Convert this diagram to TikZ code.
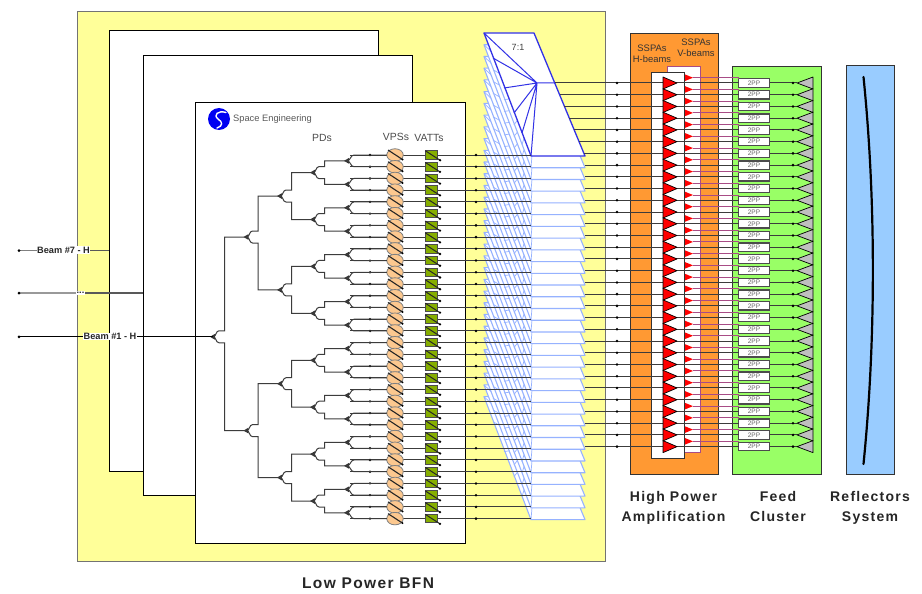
\documentclass[tikz,border=0pt]{standalone}
\usepackage{fontspec}
\setmainfont{Liberation Sans}
\newfontfamily\capfont[LetterSpace=9]{Liberation Sans}
\usetikzlibrary{shapes.geometric,calc}
\definecolor{bfnyellow}{HTML}{FFFF99}
\definecolor{hpaorange}{HTML}{FF9933}
\definecolor{feedgreen}{HTML}{99FF66}
\definecolor{reflblue}{HTML}{99CCFF}
\definecolor{vpsfill}{HTML}{FCC88F}
\definecolor{vattfill}{HTML}{86AE00}
\definecolor{wirecol}{HTML}{3C3C3C}
\definecolor{pinkline}{HTML}{A84C86}
\definecolor{hybback}{HTML}{96B2FF}
\definecolor{hybmain}{HTML}{3232E6}
\tikzset{
  panelbox/.style={rectangle,draw=#1,line width=0.9pt,inner sep=0pt,outer sep=0pt,anchor=north west},
  wire/.style={draw=wirecol,line width=1pt},
  pinkwire/.style={draw=pinkline,line width=1pt},
  smalllabel/.style={text=black!75,inner sep=0pt,font=\fontsize{9.4}{11}\selectfont,align=center},
  midlabel/.style={text=black!70,inner sep=0pt,font=\fontsize{10.4}{12}\selectfont},
  beamlabel/.style={fill=white,text=black!85,inner sep=0.6pt,font=\fontsize{9.2}{11}\selectfont\bfseries},
  caption/.style={text=black!85,inner sep=0pt,align=center,font=\capfont\fontsize{14}{20}\selectfont\bfseries},
  vpsnode/.style={ellipse,draw=black!50,fill=vpsfill,line width=0.8pt,minimum width=16.5pt,minimum height=12.5pt,inner sep=0pt,outer sep=0pt},
  vattnode/.style={rectangle,draw=black!70,fill=vattfill,line width=1pt,minimum width=12.5pt,minimum height=8.6pt,inner sep=0pt,outer sep=0pt},
  ppnode/.style={rectangle,draw=black!70,fill=white,line width=1.2pt,minimum width=31pt,minimum height=8.4pt,inner sep=0pt,outer sep=0pt,text=black!60,font=\fontsize{6.5}{7}\selectfont},
  backhyb/.style={draw=hybback,fill=white,line width=1.1pt,line join=round},
  backfan/.style={draw=hybback,line width=0.7pt},
  mainhyb/.style={draw=hybmain,fill=white,line width=1.3pt,line join=round},
  mainfan/.style={draw=hybmain,line width=1pt},
}
\newcommand{\boxat}[7]{% name, x, y, w, h, fill, border
  \node[panelbox=#7,fill=#6,minimum width=#4pt,minimum height=#5pt] (#1) at (#2,#3) {};}
\newcommand{\pdmark}[3]{% name, x, y
  \coordinate (#1) at (#2,#3);
  \fill[black!80] (#2-3,#3) -- (#2+1.8,#3-2.8) -- (#2+1.8,#3+2.8) -- cycle;}
\newcommand{\pdarm}[3]{% parent, child, sign
  \draw[wire] (#1) to[out=0,in=180] ++(6,{#3*6}) -- ++(5.5,0) |- (#2);}
\newcommand{\pdleaf}[3]{% parent, target, sign
  \draw[wire] (#1) to[out=0,in=180] ++(7,{#3*5.865}) -- (#2);}
\newcommand{\hybrid}[4]{% dy, outline style, fan style, name
  \draw[#2] (484,33+#1) -- (534,33+#1) -- (585,156+#1) -- (531,156+#1) -- cycle;
  \coordinate (#4) at (537,83+#1);
  \draw[#3] (484,33+#1) -- (#4) (493,58+#1) -- (#4) (504,88+#1) -- (#4)
            (514,113+#1) -- (#4) (522,133+#1) -- (#4) (531,156+#1) -- (#4) -- (555,83+#1);}
\begin{document}
\begin{tikzpicture}[x=1pt,y=-1pt]
\useasboundingbox (0,0) rectangle (922,594);
\fill[white] (0,0) rectangle (922,594);
% --- Low power BFN panels
\boxat{bfn}{77}{11}{528}{550}{bfnyellow}{black!55}
\boxat{panA}{109}{30}{269}{441}{white}{black}
\boxat{panB}{143}{55}{269}{440}{white}{black}
\boxat{panC}{195}{102.5}{270}{440.5}{white}{black}
% logo
\fill[blue!95!black] (219,119) circle (11);
\draw[white,line width=1.4pt,line cap=round] (226,112.5) .. controls (218,110) and (213,115) .. (218,119) .. controls (223,122) and (223,126) .. (217,128);
\node[smalllabel,anchor=west,text=black!65,font=\fontsize{9.3}{11}\selectfont] (spaceeng) at (233,119.5) {Space Engineering};
\node[midlabel] (pdslbl) at (322,138) {PDs};
\node[midlabel] (vpslbl) at (396,137) {VPSs};
\node[midlabel] (vattlbl) at (429,138) {VATTs};
% --- 7:1 hybrids, back to front
\foreach \i in {31,30,...,1}{
  \pgfmathsetmacro\dy{11.73*\i}
  \hybrid{\dy}{backhyb}{backfan}{hub\i}
}
\hybrid{0}{mainhyb}{mainfan}{hub0}
\node[smalllabel,font=\fontsize{9}{11}\selectfont] (ratio) at (518,47) {7:1};
% --- VPS / VATT rows
\foreach \i in {0,...,31}{
  \pgfmathsetmacro\ry{155+11.73*\i}
  \coordinate (tin\i) at (531,\ry);
  \node[vattnode] (vatt\i) at (431.5,\ry) {};
  \draw[wire] (vatt\i.east) -- (tin\i);
  \fill[black] (476,\ry) circle (1.4);
  \draw[wire] (395,\ry) -- (vatt\i.west);
  \draw[wire] (350,\ry) -- (388,\ry);
  \fill[black] (370,\ry) circle (1.3);
}
\foreach \i in {0,...,31}{
  \pgfmathsetmacro\ry{155+11.73*\i}
  \node[vpsnode] (vps\i) at (395,\ry) {};
}
\foreach \i in {0,...,31}{
  \pgfmathsetmacro\ry{155+11.73*\i}
  \draw[black!85,line width=1.1pt] (388,\ry-5) -- (402.5,\ry+4.5);
  \fill[black] (402.5,\ry+4.5) circle (1.1);
  \draw[black!85,line width=1pt] (vatt\i.north west) -- (440,\ry+5.2);
  \fill[black] (440,\ry+5.2) circle (1.3);
}
% --- power divider tree
\foreach \k in {0,...,15}{
  \pgfmathsetmacro\yy{155+11.73*(2*\k+0.5)}
  \pdmark{pdE\k}{347}{\yy}
  \pgfmathtruncatemacro\ca{2*\k}
  \pgfmathtruncatemacro\cb{2*\k+1}
  \pdleaf{pdE\k}{vps\ca.west}{-1}
  \pdleaf{pdE\k}{vps\cb.west}{1}
}
\foreach \k in {0,...,7}{
  \pgfmathsetmacro\yy{155+11.73*(4*\k+1.5)}
  \pdmark{pdD\k}{313}{\yy}
  \pgfmathtruncatemacro\ca{2*\k}
  \pgfmathtruncatemacro\cb{2*\k+1}
  \pdarm{pdD\k}{pdE\ca}{-1}
  \pdarm{pdD\k}{pdE\cb}{1}
}
\foreach \k in {0,...,3}{
  \pgfmathsetmacro\yy{155+11.73*(8*\k+3.5)}
  \pdmark{pdC\k}{280}{\yy}
  \pgfmathtruncatemacro\ca{2*\k}
  \pgfmathtruncatemacro\cb{2*\k+1}
  \pdarm{pdC\k}{pdD\ca}{-1}
  \pdarm{pdC\k}{pdD\cb}{1}
}
\pdmark{pdB0}{246.5}{237}
\pdmark{pdB1}{246.5}{430.6}
\pdarm{pdB0}{pdC0}{-1}
\pdarm{pdB0}{pdC1}{1}
\pdarm{pdB1}{pdC2}{-1}
\pdarm{pdB1}{pdC3}{1}
\pdmark{pdA}{213}{336.8}
\pdarm{pdA}{pdB0}{-1}
\pdarm{pdA}{pdB1}{1}
% --- beam inputs
\coordinate (inA) at (19,336.8);
\coordinate (inB) at (19,293);
\coordinate (inBm) at (80,293);
\coordinate (inBe) at (143,293);
\coordinate (inC) at (19,250.5);
\coordinate (inCm) at (64,250.5);
\coordinate (inCe) at (109,250.5);
\draw[draw=black,line width=1pt] (inA) -- (pdA);
\draw[draw=black!40,line width=1.1pt] (inB) -- (inBm);
\draw[draw=black!65,line width=1.3pt] (inBm) -- (inBe);
\draw[draw=black!50,line width=1.1pt] (inC) -- (inCm);
\draw[draw=black!65,line width=1.3pt] (inCm) -- (inCe);
\foreach \c in {inA,inB,inC}{\fill[black] (\c) circle (1.5);}
\node[beamlabel] (beamone) at (110,336.5) {Beam \#1 - H};
\node[beamlabel,inner sep=1pt] (beamdots) at (80.5,293) {...};
\node[beamlabel] (beamseven) at (63.5,250) {Beam \#7 - H};
% --- HPA and feed boxes
\boxat{hpa}{630}{33}{88}{441}{hpaorange}{black!80}
\boxat{feedbox}{732}{66}{89}{408}{feedgreen}{black!80}
\boxat{refl}{846.5}{65.7}{47.5}{408.3}{reflblue}{black!80}
\draw[black,line width=2.2pt,line cap=round] (863.5,77) .. controls (876,200) and (876,340) .. (863.5,464);
\boxat{vbox}{667}{66}{33}{386}{white}{pinkline}
\node[smalllabel,text=black!80] (hlabel) at (652,54) {SSPAs\\[0.4pt]H-beams};
\node[smalllabel,text=black!80] (vlabel) at (696,48) {SSPAs\\[0.4pt]V-beams};
% --- 2PP nodes, V path
\foreach \i in {0,...,31}{
  \pgfmathsetmacro\ry{83+11.73*\i}
  \node[ppnode] (pp\i) at (754,\ry) {2PP};
  \coordinate (vamp\i) at (693,\ry-5.3);
  \fill[red] (684,\ry-9) -- (693,\ry-5.3) -- (684,\ry-1.6) -- cycle;
  \draw[pinkwire] (vamp\i) -| (pp\i.north west);
}
\boxat{hbox}{651}{72}{33}{386}{white}{black!80}
% --- RF paths through the H amplifiers
\foreach \i in {0,...,31}{
  \pgfmathsetmacro\ry{83+11.73*\i}
  \pgfmathsetmacro\xs{min(585,534+(\ry-33)*0.41463)}
  \coordinate (tout\i) at (\xs,\ry);
  \draw[wire] (tout\i) -- (pp\i.west);
  \fill[black] (617,\ry) circle (1.4);
  \coordinate (feed\i) at (797,\ry);
  \draw[wire] (pp\i.east) -- (feed\i);
  \fill[black] (793,\ry) circle (1.4);
  \draw[fill=red,draw=black,line width=0.7pt,line join=round] (663,\ry-6) -- (677,\ry) -- (663,\ry+6) -- cycle;
  \draw[fill=black!25,draw=black,line width=0.7pt,line join=round] (feed\i) -- (813,\ry-6) -- (813,\ry+6) -- cycle;
}
% --- captions
\node[caption,font=\capfont\fontsize{15.5}{20}\selectfont\bfseries] (lpbfn) at (368,583) {Low Power BFN};
\node[caption] (hpacap) at (673.5,508) {High Power\\Amplification};
\node[caption] (feedcap) at (778,506) {Feed\\Cluster};
\node[caption] (reflcap) at (870,508) {Reflectors\\System};
\end{tikzpicture}
\end{document}
